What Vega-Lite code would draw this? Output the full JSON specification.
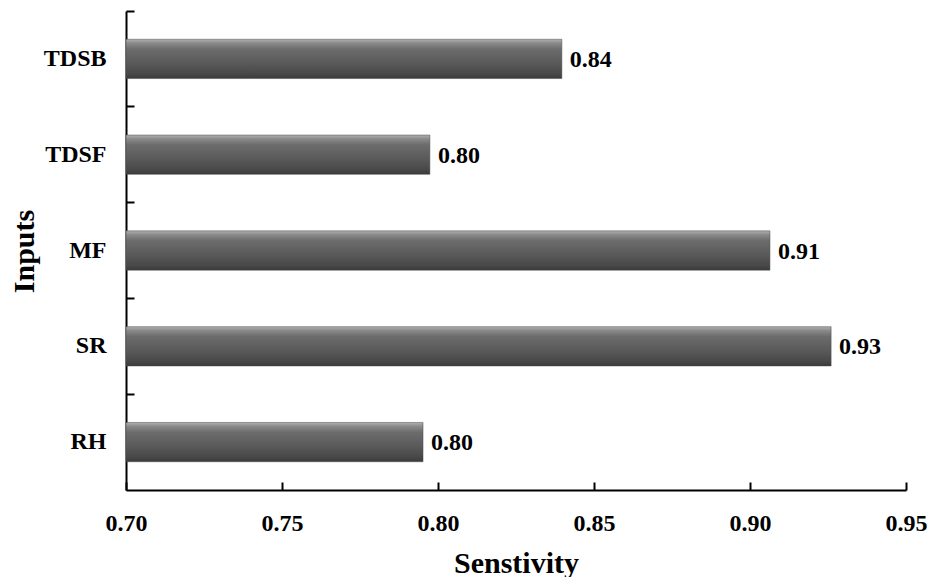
{
  "$schema": "https://vega.github.io/schema/vega-lite/v6.json",
  "width": 780,
  "height": 479,
  "autosize": "none",
  "padding": {"left": 126, "top": 11, "right": 25, "bottom": 87},
  "background": "white",
  "config": {
    "view": {"stroke": null},
    "font": "Liberation Serif",
    "axis": {
      "domainColor": "black",
      "domainWidth": 2,
      "tickColor": "black",
      "tickWidth": 2,
      "tickSize": -8,
      "grid": false,
      "labelFont": "Liberation Serif",
      "labelFontWeight": "bold",
      "labelFontSize": 24,
      "labelColor": "black",
      "titleFont": "Liberation Serif",
      "titleFontWeight": "bold",
      "titleFontSize": 30,
      "titleColor": "black"
    }
  },
  "data": {
    "values": [
      {"input": "TDSB", "sensitivity": 0.8397, "label": "0.84"},
      {"input": "TDSF", "sensitivity": 0.7974, "label": "0.80"},
      {"input": "MF", "sensitivity": 0.9064, "label": "0.91"},
      {"input": "SR", "sensitivity": 0.926, "label": "0.93"},
      {"input": "RH", "sensitivity": 0.7952, "label": "0.80"}
    ]
  },
  "encoding": {
    "y": {
      "field": "input",
      "type": "nominal",
      "sort": ["TDSB", "TDSF", "MF", "SR", "RH"],
      "scale": {"paddingInner": 0, "paddingOuter": 0},
      "axis": {
        "title": "Inputs",
        "bandPosition": 0,
        "labelPadding": 28,
        "titleAngle": -90,
        "titleX": -93,
        "titleY": 240,
        "titleAlign": "center",
        "titleBaseline": "alphabetic"
      }
    },
    "x": {
      "field": "sensitivity",
      "type": "quantitative",
      "scale": {"domain": [0.7, 0.95], "zero": false, "nice": false, "clamp": true},
      "axis": {
        "title": "Senstivity",
        "values": [0.7, 0.75, 0.8, 0.85, 0.9, 0.95],
        "format": ".2f",
        "labelPadding": 29,
        "labelFlush": false,
        "titleX": 390,
        "titleY": 82,
        "titleAlign": "center",
        "titleBaseline": "alphabetic"
      }
    }
  },
  "layer": [
    {
      "mark": {
        "type": "bar",
        "height": {"band": 0.41},
        "fill": {
          "gradient": "linear",
          "x1": 0, "y1": 0, "x2": 0, "y2": 1,
          "stops": [
            {"offset": 0, "color": "#b0b0b0"},
            {"offset": 0.1, "color": "#8a8a8a"},
            {"offset": 0.25, "color": "#6c6c6c"},
            {"offset": 0.6, "color": "#5a5a5a"},
            {"offset": 0.88, "color": "#484848"},
            {"offset": 1, "color": "#3a3a3a"}
          ]
        },
        "stroke": "#4a4a4a",
        "strokeWidth": 0.5
      }
    },
    {
      "mark": {
        "type": "text",
        "align": "left",
        "baseline": "middle",
        "dx": 8,
        "dy": 1,
        "font": "Liberation Serif",
        "fontWeight": "bold",
        "fontSize": 24,
        "color": "black"
      },
      "encoding": {"text": {"field": "label"}}
    }
  ]
}
